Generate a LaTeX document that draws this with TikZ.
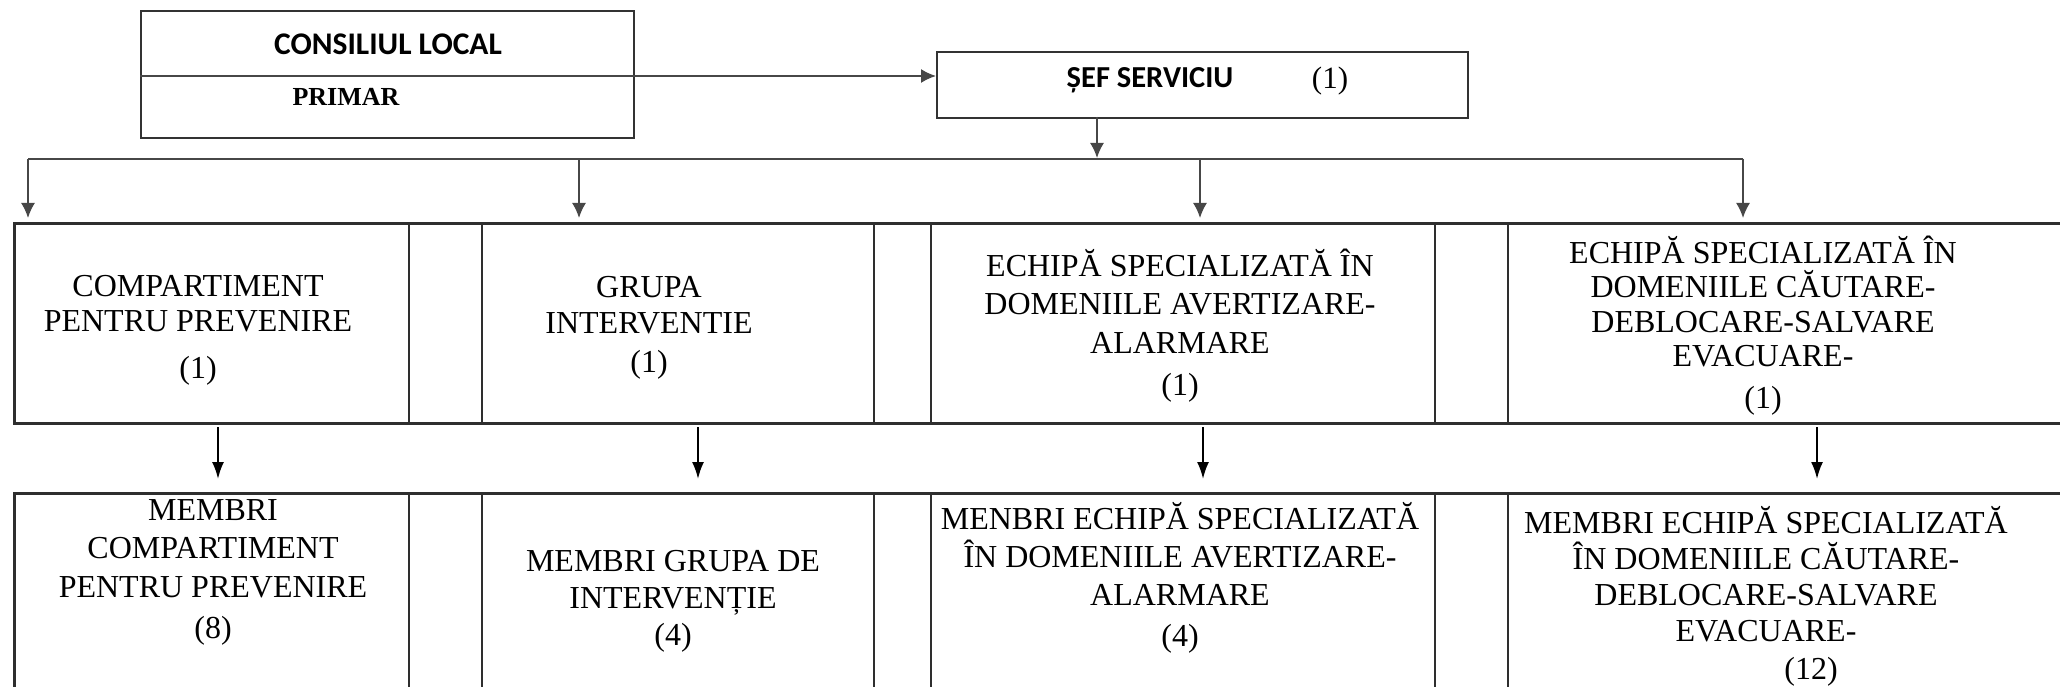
\documentclass[tikz,border=0pt]{standalone}
\usepackage{fontspec}
\setmainfont{Liberation Serif}
\newfontfamily\calibfont{Carlito}
\usetikzlibrary{arrows.meta}
\newcommand{\cellbox}[3]{\parbox[t]{#1pt}{\centering\fontsize{32}{#2}\selectfont #3}}
\begin{document}
\begin{tikzpicture}[x=1pt,y=-1pt,
  topbox/.style={draw=black!80, line width=2pt, inner sep=0pt, anchor=north west},
  tbl/.style={draw=black!82, line width=2.5pt},
  tblrow/.style={draw=black!82, line width=2.5pt, inner sep=0pt, anchor=north west, minimum width=2090pt},
  ln/.style={inner sep=0pt, anchor=base},
  topline/.style={draw=black!72, line width=1.7pt},
  toparrow/.style={draw=black!72, fill=black!72, line width=1.7pt, -{Latex[length=15pt,width=14pt]}},
  botarrow/.style={draw=black, line width=2pt, -{Latex[length=17pt,width=12pt]}},
  sansbold/.style={font=\calibfont\bfseries\fontsize{31.5}{36}\selectfont},
]
\useasboundingbox (0,0) rectangle (2060,687);
\clip (0,0) rectangle (2060,687);

% top boxes
\node[topbox, minimum width=493pt, minimum height=127pt] (cons) at (140,10) {};
\node[ln, sansbold] (conslbl) at (388,55) {CONSILIUL LOCAL};
\node[ln, font=\bfseries\fontsize{26}{30}\selectfont] (primar) at (346,106) {PRIMAR};
\coordinate (divL) at (140,76);
\coordinate (divR) at (633,76);
\draw[topline] (divL) -- (divR);

\node[topbox, minimum width=531pt, minimum height=66pt] (sef) at (936,51) {};
\node[ln, font=\calibfont\bfseries\fontsize{30.5}{34}\selectfont] (seflbl) at (1150,88) {ȘEF SERVICIU};
\node[ln, font=\fontsize{31}{36}\selectfont] (sefnum) at (1330,89) {(1)};
\draw[toparrow] (divR) -- (sef.west |- divR);

% bus
\coordinate (sefdown) at (1097,117);
\coordinate (sefbus) at (1097,158);
\coordinate (b1) at (28,159);
\coordinate (b2) at (579,159);
\coordinate (b3) at (1200,159);
\coordinate (b4) at (1743,159);
\coordinate (e1) at (28,218);
\coordinate (e2) at (579,218);
\coordinate (e3) at (1200,218);
\coordinate (e4) at (1743,218);
\draw[toparrow] (sefdown) -- (sefbus);
\draw[topline] (b1) -- (b4);
\draw[toparrow] (b1) -- (e1);
\draw[toparrow] (b2) -- (e2);
\draw[toparrow] (b3) -- (e3);
\draw[toparrow] (b4) -- (e4);

% table rows
\node[tblrow, minimum height=200pt] (row1) at (13,222) {};
\node[tblrow, minimum height=240pt] (row2) at (13,492) {};
\foreach \vx in {409,482,874,931,1435,1508}{
  \draw[tbl] (row1.north -| \vx,0) -- (row1.south -| \vx,0);
  \draw[tbl] (row2.north -| \vx,0) -- (row2.south -| \vx,0);
}

% top row texts
\node[ln] (t1) at (198,296) {\cellbox{380}{35}{COMPARTIMENT\\PENTRU PREVENIRE\\[12pt](1)}};
\node[ln] (t2) at (649,297) {\cellbox{380}{36}{GRUPA\\INTERVENTIE\\[3pt](1)}};
\node[ln] (t3) at (1180,276) {\cellbox{500}{38.5}{ECHIPĂ SPECIALIZATĂ ÎN\\DOMENIILE AVERTIZARE-\\ALARMARE\\[4pt](1)}};
\node[ln] (t4) at (1763,263) {\cellbox{540}{34.5}{ECHIPĂ SPECIALIZATĂ ÎN\\DOMENIILE CĂUTARE-\\DEBLOCARE-SALVARE\\EVACUARE-\\[7pt](1)}};

% bottom row texts
\node[ln] (d1) at (213,520) {\cellbox{390}{38.5}{MEMBRI\\COMPARTIMENT\\PENTRU PREVENIRE\\[3pt](8)}};
\node[ln] (d2) at (673,571) {\cellbox{390}{37}{MEMBRI GRUPA DE\\INTERVENȚIE\\(4)}};
\node[ln] (d3) at (1180,529) {\cellbox{500}{38}{MENBRI ECHIPĂ SPECIALIZATĂ\\ÎN DOMENIILE AVERTIZARE-\\ALARMARE\\[3pt](4)}};
\node[ln] (d4) at (1766,533) {\cellbox{540}{36}{MEMBRI ECHIPĂ SPECIALIZATĂ\\ÎN DOMENIILE CĂUTARE-\\DEBLOCARE-SALVARE\\EVACUARE-\\[2pt]\hspace*{90pt}(12)}};

% arrows between rows
\coordinate (s1) at (218,427);
\coordinate (s2) at (698,427);
\coordinate (s3) at (1203,427);
\coordinate (s4) at (1817,427);
\coordinate (f1) at (218,479);
\coordinate (f2) at (698,479);
\coordinate (f3) at (1203,479);
\coordinate (f4) at (1817,479);
\draw[botarrow] (s1) -- (f1);
\draw[botarrow] (s2) -- (f2);
\draw[botarrow] (s3) -- (f3);
\draw[botarrow] (s4) -- (f4);
\end{tikzpicture}
\end{document}
